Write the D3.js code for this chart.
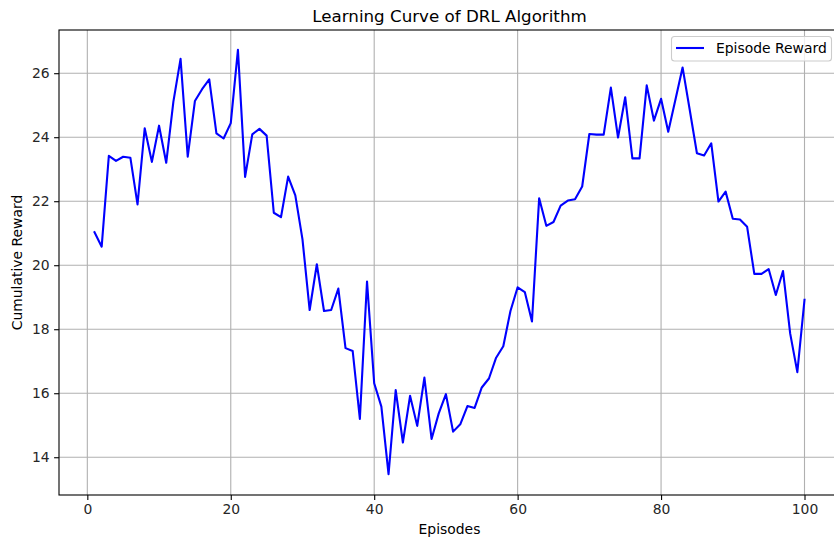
<!DOCTYPE html>
<html>
<head>
<meta charset="utf-8">
<script src="https://cdn.jsdelivr.net/npm/d3@7"></script>
<style>
  body { margin: 0; background: #fff; }
  svg { display: block; font-family: "DejaVu Sans", sans-serif; }
</style>
</head>
<body>
<div id="chart"></div>
<script>
// Episode numbers and rewards
let episodes = d3.range(1, 101);
let rewards = [
  21.03, 20.58, 23.42, 23.26, 23.39, 23.36, 21.90, 24.28, 23.23, 24.36,
  23.20, 25.11, 26.45, 23.39, 25.13, 25.50, 25.81, 24.12, 23.96, 24.44,
  26.73, 22.76, 24.09, 24.26, 24.05, 21.64, 21.50, 22.77, 22.18, 20.81,
  18.60, 20.03, 18.57, 18.60, 19.27, 17.41, 17.32, 15.20, 19.49, 16.31,
  15.58, 13.47, 16.10, 14.46, 15.92, 14.98, 16.49, 14.57, 15.37, 15.97,
  14.80, 15.03, 15.60, 15.54, 16.18, 16.46, 17.11, 17.47, 18.57, 19.31,
  19.16, 18.24, 22.09, 21.23, 21.35, 21.86, 22.02, 22.06, 22.46, 24.10,
  24.08, 24.08, 25.55, 23.99, 25.25, 23.34, 23.34, 25.62, 24.52, 25.20,
  24.17, 25.17, 26.18, 24.85, 23.50, 23.43, 23.81, 21.99, 22.30, 21.45,
  21.43, 21.20, 19.73, 19.73, 19.88, 19.07, 19.82, 17.87, 16.66, 18.92
];
let xTicks = [0, 20, 40, 60, 80, 100];
let yTicks = [14, 16, 18, 20, 22, 24, 26];

let W = 834, H = 540;
let margin = { top: 30, left: 59 };
let plotW = 781, plotH = 465;

let svg = d3.select('#chart').append('svg')
  .attr('width', W)
  .attr('height', H);

// Scales (matplotlib style 5% padding)
let xScale = d3.scaleLinear()
  .domain([-3.95, 104.95])
  .range([margin.left, margin.left + plotW]);

let yScale = d3.scaleLinear()
  .domain([12.82, 27.35])
  .range([margin.top + plotH, margin.top]);

// Grid lines
svg.append('g')
  .selectAll('line')
  .data(xTicks)
  .enter()
  .append('line')
  .attr('x1', d => xScale(d))
  .attr('x2', d => xScale(d))
  .attr('y1', margin.top)
  .attr('y2', margin.top + plotH)
  .attr('stroke', '#b0b0b0')
  .attr('stroke-width', 1.1);

svg.append('g')
  .selectAll('line')
  .data(yTicks)
  .enter()
  .append('line')
  .attr('x1', margin.left)
  .attr('x2', margin.left + plotW)
  .attr('y1', d => yScale(d))
  .attr('y2', d => yScale(d))
  .attr('stroke', '#b0b0b0')
  .attr('stroke-width', 1.1);

// The reward curve
let line = d3.line()
  .x((d, i) => xScale(episodes[i]))
  .y(d => yScale(d));

svg.append('path')
  .datum(rewards)
  .attr('d', line)
  .attr('fill', 'none')
  .attr('stroke', 'blue')
  .attr('stroke-width', 2.1)
  .attr('stroke-linejoin', 'round')
  .attr('stroke-linecap', 'square');

// Axes
let xAxis = d3.axisBottom(xScale).tickValues(xTicks).tickSize(4.9).tickPadding(4.5).tickSizeOuter(0);
let yAxis = d3.axisLeft(yScale).tickValues(yTicks).tickSize(4.9).tickPadding(4.5).tickSizeOuter(0);

let gx = svg.append('g')
  .attr('transform', 'translate(0,' + (margin.top + plotH) + ')')
  .call(xAxis);

let gy = svg.append('g')
  .attr('transform', 'translate(' + margin.left + ',0)')
  .call(yAxis);

[gx, gy].forEach(g => {
  g.select('.domain').remove();
  g.selectAll('.tick line').attr('stroke', '#000').attr('stroke-width', 1.1);
  g.selectAll('.tick text')
    .attr('fill', '#262626')
    .style('font-size', '13.9px')
    .style('font-family', '"DejaVu Sans", sans-serif');
});

// Frame
svg.append('rect')
  .attr('x', margin.left)
  .attr('y', margin.top)
  .attr('width', plotW)
  .attr('height', plotH)
  .attr('fill', 'none')
  .attr('stroke', '#000')
  .attr('stroke-width', 1.1);

// Title and axis labels
svg.append('text')
  .attr('x', margin.left + plotW / 2)
  .attr('y', 22)
  .attr('text-anchor', 'middle')
  .style('font-size', '16.7px')
  .attr('fill', '#000')
  .text('Learning Curve of DRL Algorithm');

svg.append('text')
  .attr('x', margin.left + plotW / 2)
  .attr('y', 534)
  .attr('text-anchor', 'middle')
  .style('font-size', '13.9px')
  .attr('fill', '#000')
  .text('Episodes');

svg.append('text')
  .attr('transform', 'translate(22,' + (margin.top + plotH / 2) + ') rotate(-90)')
  .attr('text-anchor', 'middle')
  .style('font-size', '13.9px')
  .attr('fill', '#000')
  .text('Cumulative Reward');

// Legend (upper right)
let legend = svg.append('g');
legend.append('rect')
  .attr('x', 671.5)
  .attr('y', 36.5)
  .attr('width', 160)
  .attr('height', 24.5)
  .attr('rx', 3)
  .attr('fill', 'rgba(255,255,255,0.8)')
  .attr('stroke', '#cccccc')
  .attr('stroke-width', 1.1);

legend.append('line')
  .attr('x1', 676)
  .attr('x2', 704)
  .attr('y1', 48)
  .attr('y2', 48)
  .attr('stroke', 'blue')
  .attr('stroke-width', 2.1);

legend.append('text')
  .attr('x', 716)
  .attr('y', 53)
  .style('font-size', '13.9px')
  .attr('fill', '#000')
  .text('Episode Reward');
</script>
</body>
</html>
